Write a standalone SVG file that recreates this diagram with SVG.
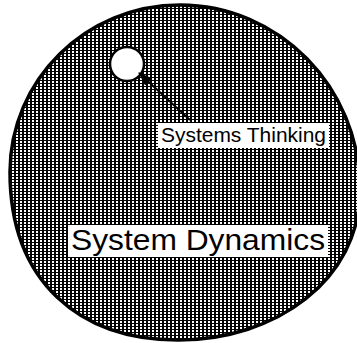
<svg xmlns="http://www.w3.org/2000/svg" width="357" height="343" viewBox="0 0 357 343">
  <defs>
    <pattern id="dots" width="4" height="3" patternUnits="userSpaceOnUse">
      <rect width="4" height="3" fill="#000"/>
      <rect x="0" y="0" width="2" height="2" fill="#fff"/>
    </pattern>
    <marker id="arrow" viewBox="0 0 14 10" refX="13" refY="5" markerWidth="14" markerHeight="10" markerUnits="userSpaceOnUse" orient="auto">
      <path d="M0,0 L14,5 L0,10 Z" fill="#000"/>
    </marker>
  </defs>
  <style>
    .label { font-family: "Liberation Sans", Arial, sans-serif; fill: #000; }
    .box { fill: #fff; stroke: none; }
    .edge { stroke: #000; stroke-width: 2; fill: none; }
  </style>
  <rect width="357" height="343" fill="#fff"/>
  <g id="system-dynamics">
    <path d="M180,5 C278,5 360,86 360,190 C360,280 276,340 178,340 C80,340 10,282 10,172 C10,80 86,5 180,5 Z" fill="url(#dots)" stroke="#000" stroke-width="3.5"/>
    <rect class="box" x="68" y="225" width="260" height="32"/>
    <text class="label" x="71" y="250" font-size="30" textLength="254" lengthAdjust="spacingAndGlyphs">System Dynamics</text>
  </g>
  <g id="systems-thinking">
    <circle cx="127" cy="64" r="17" fill="#fff" stroke="#000" stroke-width="2.5"/>
    <rect class="box" x="158" y="123" width="171" height="25"/>
    <text class="label" x="161" y="142" font-size="21" textLength="165" lengthAdjust="spacingAndGlyphs">Systems Thinking</text>
  </g>
  <g id="connectors">
    <line class="edge" x1="190" y1="120" x2="139" y2="73" marker-end="url(#arrow)"/>
  </g>
</svg>
